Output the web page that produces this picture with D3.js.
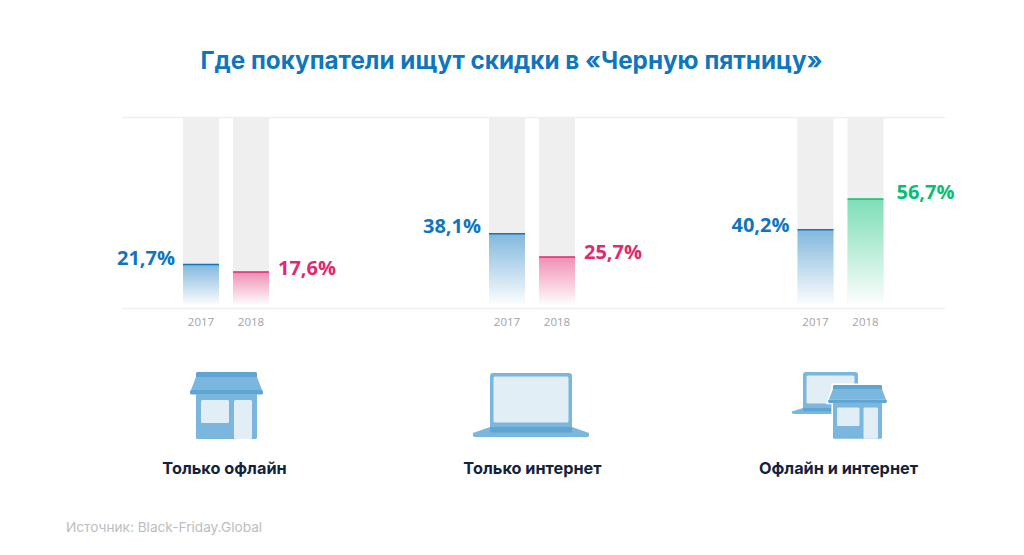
<!DOCTYPE html>
<html lang="ru">
  <head>
    <meta charset="utf-8">
    <title>Черная пятница</title>
    <script src="https://d3js.org/d3.v7.min.js"></script>
    <style media="screen">
      html, body { margin: 0; padding: 0; background: #fff; }
      svg { display: block; }
      .title { font: 700 24.25px Inter, sans-serif; fill: #0f76bd; text-anchor: middle; }
      .val { font: 700 20px "Open Sans", sans-serif; }
      .year { font: 400 11.5px "Open Sans", sans-serif; fill: #a3a3a3; text-anchor: middle; }
      .cat { font: 700 16.3px Inter, sans-serif; fill: #14233c; text-anchor: middle; }
      .source { font: 400 13.65px Inter, sans-serif; fill: #bdbdbd; }
      .rule { stroke: #efefef; stroke-width: 1.5px; }
    </style>
  </head>
  <body>
    <svg id="chart" width="1024" height="555" xmlns="http://www.w3.org/2000/svg"></svg>
    <script>
      let categories = ['Только офлайн', 'Только интернет', 'Офлайн и интернет'];
      let years = ['2017', '2018'];
      let values2017 = [21.7, 38.1, 40.2];
      let values2018 = [17.6, 25.7, 56.7];
      let colors2018 = ['#e0296f', '#e0296f', '#07bf74'];
      let blue = '#0f76bd';

      let svg = d3.select('#chart');

      let heightScale = d3.scaleLinear().domain([0, 100]).range([305, 118]);
      let groupScale = d3.scaleOrdinal().domain(categories).range([226, 532, 840.5]);
      let barScale = d3.scaleBand().domain(years).range([-43, 43]).paddingInner(0.28);

      function fmt(v) { return d3.format('.1f')(v).replace('.', ',') + '%'; }

      let rows = [];
      categories.forEach(function(c, i) {
        rows.push({cat: c, year: years[0], v: values2017[i], color: blue, gap: 8, dy: [1, -1, 2][i]});
        rows.push({cat: c, year: years[1], v: values2018[i], color: colors2018[i], gap: [9, 9, 13][i], dy: [3, 2, 0][i]});
      });

      // one fading gradient per colour
      let defs = svg.append('defs');
      Array.from(new Set(rows.map(function(d) {return d.color}))).forEach(function(c) {
        let g = defs.append('linearGradient')
          .attr('id', 'fade' + c.slice(1))
          .attr('x1', 0).attr('x2', 0).attr('y1', 0).attr('y2', 1);
        g.append('stop').attr('offset', 0).attr('stop-color', c).attr('stop-opacity', 0.52);
        g.append('stop').attr('offset', 1).attr('stop-color', c).attr('stop-opacity', 0.01);
      });

      svg.append('text').attr('class', 'title').attr('x', 511.5).attr('y', 69)
        .text('Где покупатели ищут скидки в «Черную пятницу»');

      svg.append('line').attr('class', 'rule').attr('x1', 122).attr('x2', 945).attr('y1', 117.5).attr('y2', 117.5);
      svg.append('line').attr('class', 'rule').attr('x1', 122).attr('x2', 945).attr('y1', 308.5).attr('y2', 308.5);

      function barX(d) { return groupScale(d.cat) + barScale(d.year); }

      let bars = svg.selectAll('g.bar').data(rows).join('g').attr('class', 'bar');

      bars.append('rect')
        .attr('x', barX).attr('width', barScale.bandwidth())
        .attr('y', heightScale(100)).attr('height', heightScale(0) - heightScale(100))
        .attr('fill', '#efefef');
      // white under the fill so the fade runs out to white, not grey
      bars.append('rect')
        .attr('x', barX).attr('width', barScale.bandwidth())
        .attr('y', function(d) {return heightScale(d.v)})
        .attr('height', function(d) {return heightScale(0) - heightScale(d.v)})
        .attr('fill', '#fff');
      bars.append('rect')
        .attr('x', barX).attr('width', barScale.bandwidth())
        .attr('y', function(d) {return heightScale(d.v)})
        .attr('height', function(d) {return heightScale(0) - heightScale(d.v)})
        .attr('fill', function(d) {return 'url(#fade' + d.color.slice(1) + ')'});
      bars.append('line')
        .attr('x1', barX)
        .attr('x2', function(d) {return barX(d) + barScale.bandwidth()})
        .attr('y1', function(d) {return heightScale(d.v)})
        .attr('y2', function(d) {return heightScale(d.v)})
        .attr('stroke', function(d) {return d.color})
        .attr('stroke-width', 1.5);

      bars.append('text').attr('class', 'year')
        .attr('x', function(d) {return barX(d) + barScale.bandwidth() / 2})
        .attr('y', 326)
        .text(function(d) {return d.year});

      bars.append('text').attr('class', 'val')
        .attr('x', function(d) {
          return d.year === years[0] ? barX(d) - d.gap : barX(d) + barScale.bandwidth() + d.gap;
        })
        .attr('y', function(d) {return heightScale(d.v) + d.dy})
        .attr('text-anchor', function(d) {return d.year === years[0] ? 'end' : 'start'})
        .attr('fill', function(d) {return d.color})
        .text(function(d) {return fmt(d.v)});

      svg.selectAll('text.cat').data(categories).join('text')
        .attr('class', 'cat')
        .attr('x', function(d, i) {return [224.5, 532.5, 838.5][i]})
        .attr('y', 474)
        .text(function(d) {return d});

      svg.append('text').attr('class', 'source').attr('x', 66).attr('y', 532)
        .text('Источник: Black-Friday.Global');

      // icons
      let mid = '#7ab6dd', dark = '#5fa5d4', pale = '#e2eef6';

      function store(x, y, w, halo) {
        let k = w / 61;
        let g = svg.append('g').attr('transform', 'translate(' + x + ',' + y + ') scale(' + k + ')');
        if (halo) {
          // thin white edge where the shop sits on top of the laptop
          g.append('path').attr('d', 'M0 0H61V5L67 22H61V67H0V22H-6L0 5Z')
            .attr('fill', '#fff').attr('stroke', '#fff').attr('stroke-width', 4);
        }
        g.append('rect').attr('x', 0).attr('y', 0).attr('width', 61).attr('height', 6).attr('rx', 1.5).attr('fill', dark);
        g.append('path').attr('d', 'M0 5H61L66 18H-5Z').attr('fill', mid);
        g.append('rect').attr('x', -6).attr('y', 18).attr('width', 73).attr('height', 4.5).attr('rx', 1.5).attr('fill', dark);
        g.append('path').attr('d', 'M0 22H61V65.5Q61 67 59.5 67H1.5Q0 67 0 65.5Z').attr('fill', mid);
        g.append('rect').attr('x', 5).attr('y', 28).attr('width', 28).attr('height', 23).attr('rx', 1.5).attr('fill', pale);
        g.append('rect').attr('x', 38).attr('y', 28).attr('width', 18).attr('height', 39).attr('rx', 1.5).attr('fill', pale);
      }

      function laptop(x, y, w, h, base, k) {
        let g = svg.append('g');
        let b = y + h;
        g.append('rect').attr('x', x).attr('y', y).attr('width', w).attr('height', h + 3).attr('rx', 3).attr('fill', mid);
        g.append('rect').attr('x', x + 3.5).attr('y', y + 3.5).attr('width', w - 7).attr('height', h - 8).attr('rx', 1.5).attr('fill', pale);
        g.append('path')
          .attr('d', 'M' + x + ' ' + b + 'H' + (x + w) + 'L' + (x + w + base) + ' ' + (b + 6 * k)
            + 'V' + (b + 8.5 * k) + 'Q' + (x + w + base) + ' ' + (b + 10 * k) + ' ' + (x + w + base - 2) + ' ' + (b + 10 * k)
            + 'H' + (x - base + 2) + 'Q' + (x - base) + ' ' + (b + 10 * k) + ' ' + (x - base) + ' ' + (b + 8.5 * k)
            + 'V' + (b + 6 * k) + 'Z')
          .attr('fill', mid);
        g.append('rect').attr('x', x).attr('y', b).attr('width', w).attr('height', 5.5 * k).attr('fill', dark);
      }

      store(196, 372, 61, false);
      laptop(490, 373, 82, 54, 17, 1);
      laptop(803, 372, 55, 36, 11, 0.6);
      store(833, 385, 49, true);
    </script>
  </body>
</html>
